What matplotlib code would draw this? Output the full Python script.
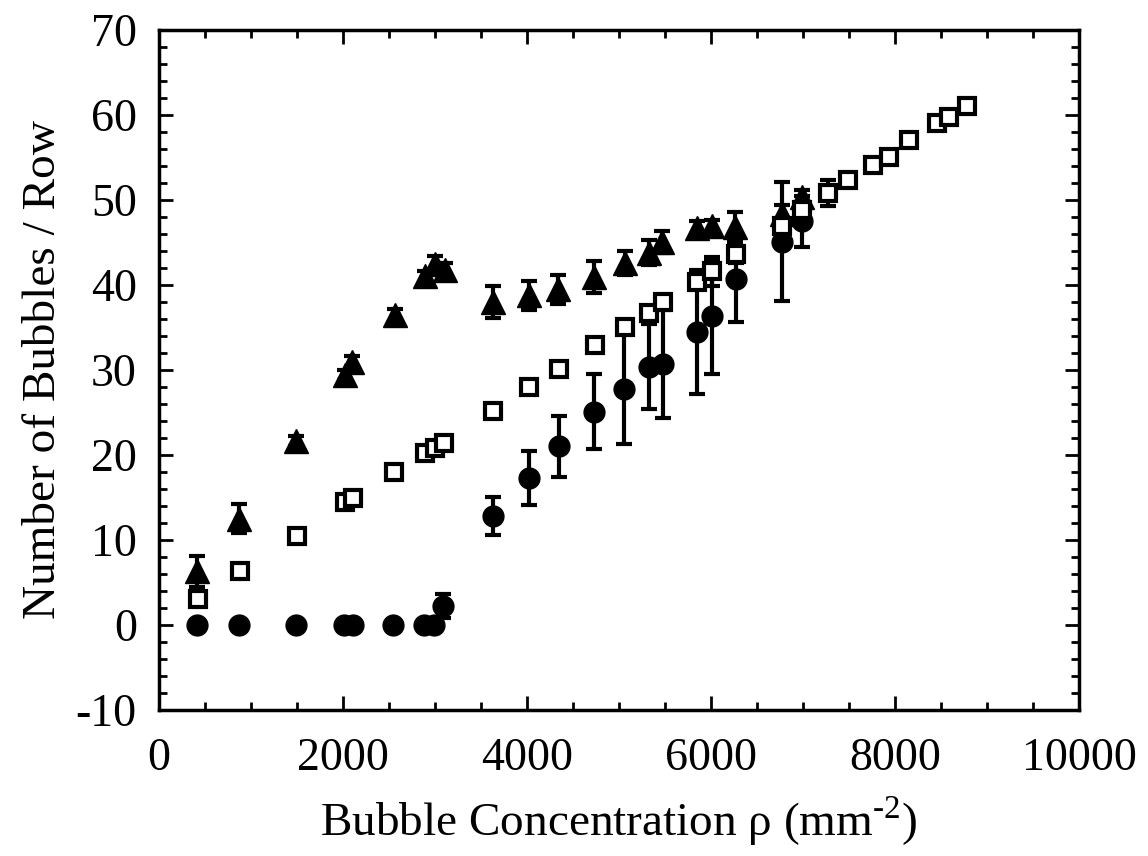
import matplotlib
matplotlib.use('Agg')
import matplotlib.pyplot as plt
from matplotlib.ticker import MultipleLocator

plt.rcParams['font.family'] = ['Liberation Serif', 'DejaVu Serif']
plt.rcParams['mathtext.fontset'] = 'custom'
plt.rcParams['mathtext.rm'] = 'Liberation Serif'
plt.rcParams['axes.unicode_minus'] = False

# triangles (filled)
tri_x = [409, 873, 1489, 2022, 2100, 2565, 2891, 3000, 3109, 3634, 4025, 4340,
         4732, 5060, 5329, 5467, 5844, 6007, 6261, 6768, 6986]
tri_y = [6.3, 12.5, 21.6, 29.4, 30.9, 36.5, 41.0, 42.5, 41.8, 38.0, 38.8, 39.5,
         40.9, 42.6, 43.8, 45.1, 46.7, 46.9, 46.8, 48.4, 50.4]
tri_err = [1.8, 1.7, 0.6, 0.6, 0.8, 0.7, 0.6, 0.9, 0.8, 1.9, 1.7, 1.7,
           1.9, 1.4, 1.5, 1.3, 0.8, 0.8, 1.8, 1.0, 0.8]

# circles (filled)
circ_x = [413, 870, 1489, 2011, 2109, 2543, 2880, 2989, 3083, 3627, 4018, 4344,
          4732, 5058, 5329, 5482, 5844, 6011, 6268, 6768, 6986]
circ_y = [0, 0, 0, 0, 0, 0, 0, 0, 2.2, 12.8, 17.3, 21.0,
          25.1, 27.8, 30.4, 30.7, 34.5, 36.3, 40.7, 45.1, 47.5]
circ_err = [0, 0, 0, 0, 0, 0, 0, 0, 1.4, 2.2, 3.2, 3.6,
            4.4, 6.5, 5.0, 6.4, 7.3, 6.8, 5.0, 7.0, 3.0]

# squares (open)
sq_x = [420, 880, 1496, 2022, 2112, 2558, 2891, 3000, 3101, 3634, 4025, 4348,
        4739, 5065, 5329, 5474, 5844, 6011, 6268, 6768, 6986, 7275, 7486,
        7758, 7935, 8156, 8453, 8590, 8779]
sq_y = [3.1, 6.3, 10.5, 14.5, 14.9, 18.0, 20.2, 20.8, 21.4, 25.2, 28.0, 30.1,
        32.9, 35.1, 36.7, 38.0, 40.3, 41.6, 43.6, 46.9, 48.8, 50.8, 52.3,
        54.1, 55.1, 57.1, 59.0, 59.8, 61.1]
sq_err = [0.3, 0.3, 0.3, 0.3, 0.3, 0.3, 0.3, 0.3, 0.3, 0.3, 0.3, 0.3,
          0.3, 0.3, 0.3, 0.3, 0.3, 1.7, 1.0, 0.3, 0.5, 1.5, 0.5,
          0.3, 0.3, 0.3, 0.3, 0.5, 0.5]

fig = plt.figure(figsize=(11.48, 8.56), dpi=100)
ax = fig.add_axes([0.1385, 0.1706, 0.8015, 0.7944])

eb = dict(linestyle='none', ecolor='black', elinewidth=3, capsize=5.5, capthick=3)
ax.errorbar(tri_x, tri_y, yerr=tri_err, fmt='^', ms=17, mfc='black', mec='black', zorder=2, **eb)
ax.errorbar(circ_x, circ_y, yerr=circ_err, fmt='o', ms=15, mfc='black', mec='black', zorder=3, **eb)
ax.errorbar(sq_x, sq_y, yerr=sq_err, fmt='s', ms=12, mfc='white', mec='black', mew=3, zorder=4, **eb)

ax.set_xlim(0, 10000)
ax.set_ylim(-10, 70)
ax.xaxis.set_major_locator(MultipleLocator(2000))
ax.xaxis.set_minor_locator(MultipleLocator(500))
ax.yaxis.set_major_locator(MultipleLocator(10))
ax.yaxis.set_minor_locator(MultipleLocator(2))
ax.tick_params(which='both', direction='in', top=True, right=True, width=2)
ax.tick_params(which='major', length=10, labelsize=33)
ax.tick_params(which='minor', length=6)
ax.tick_params(axis='x', which='major', pad=20)
ax.tick_params(axis='y', which='major', pad=16)
for s in ax.spines.values():
    s.set_linewidth(2.5)

ax.set_xlabel('Bubble Concentration ρ (mm$^{\\text{-2}}$)', fontsize=34, labelpad=10)
ax.set_ylabel('Number of Bubbles / Row', fontsize=34, labelpad=8)

fig.savefig('out.png', dpi=100)
